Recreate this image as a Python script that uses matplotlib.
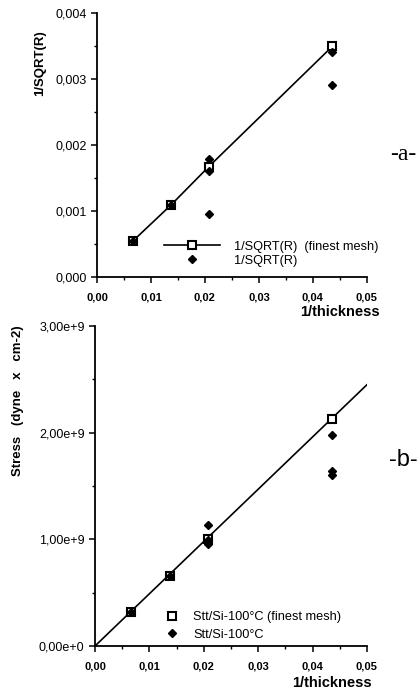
import matplotlib
matplotlib.use("Agg")
import matplotlib.pyplot as plt
from matplotlib.ticker import MultipleLocator, FuncFormatter

plt.rcParams['font.family'] = ['Liberation Sans', 'DejaVu Sans']

# panel a: 1/SQRT(R) vs 1/thickness
a_mesh_x = [0.0067, 0.0137, 0.0207, 0.0436]
a_mesh_y = [0.00055, 0.00109, 0.00167, 0.00349]
a_pts_x = [0.0067, 0.0137, 0.0208, 0.0208, 0.0208, 0.0436, 0.0436]
a_pts_y = [0.00055, 0.00109, 0.00178, 0.00160, 0.00096, 0.00341, 0.00291]

# panel b: stress vs 1/thickness
b_mesh_x = [0.0066, 0.0138, 0.0208, 0.0436]
b_mesh_y = [0.32e9, 0.657e9, 1.006e9, 2.13e9]
b_pts_x = [0.0066, 0.0138, 0.0208, 0.0208, 0.0208, 0.0436, 0.0436, 0.0436]
b_pts_y = [0.32e9, 0.657e9, 1.137e9, 0.99e9, 0.96e9, 1.98e9, 1.64e9, 1.60e9]
b_fit_x = [0.0, 0.0502]
b_fit_slope = 4.9e10


def comma(fmt):
    return FuncFormatter(lambda v, p: (fmt % v).replace('.', ','))


def sci(v, p):
    if v == 0:
        return '0,00e+0'
    return ('%.2fe+9' % (v / 1e9)).replace('.', ',')


def style_axes(ax):
    ax.spines['top'].set_visible(False)
    ax.spines['right'].set_visible(False)
    ax.spines['left'].set_linewidth(1.3)
    ax.spines['bottom'].set_linewidth(1.3)
    ax.set_xlim(0, 0.05)
    ax.xaxis.set_major_locator(MultipleLocator(0.01))
    ax.xaxis.set_minor_locator(MultipleLocator(0.005))
    ax.xaxis.set_major_formatter(comma('%.2f'))
    ax.tick_params(which='major', length=4, width=1.1, direction='out')
    ax.tick_params(which='minor', length=2.5, width=1, direction='out')
    ax.tick_params(axis='x', pad=7, labelsize=8)
    ax.tick_params(axis='y', labelsize=9)
    ax.set_xlabel('1/thickness', fontsize=10.5, fontweight='bold')
    ax.xaxis.label.set_ha('right')
    ax.xaxis.label.set_va('center')


fig = plt.figure(figsize=(4.19, 6.91), dpi=100)

ax1 = fig.add_axes([0.2315, 0.599, 0.644, 0.3826])
ax1.plot(a_mesh_x, a_mesh_y, color='black', lw=1.2, marker='s', ms=5.5,
         mfc='white', mec='black', mew=1.5, label='1/SQRT(R)  (finest mesh)')
ax1.plot(a_pts_x, a_pts_y, ls='none', marker='D', ms=4.2, color='black',
         label='1/SQRT(R)')
ax1.set_ylim(0, 0.004)
ax1.yaxis.set_major_locator(MultipleLocator(0.001))
ax1.yaxis.set_minor_locator(MultipleLocator(0.0005))
ax1.yaxis.set_major_formatter(comma('%.3f'))
style_axes(ax1)
for lab in ax1.get_xticklabels():
    lab.set_fontweight('bold')
ax1.xaxis.set_label_coords(1.048, -0.133)
ax1.text(-0.21, 0.81, '1/SQRT(R)', rotation=90, fontsize=9.5, fontweight='bold',
         ha='center', va='center', transform=ax1.transAxes)
ax1.legend(loc='lower left', bbox_to_anchor=(0.215, 0.005), frameon=False,
           fontsize=9.2, handlelength=4.4, numpoints=1, handletextpad=1.1,
           labelspacing=0.15, borderpad=0.2)

ax2 = fig.add_axes([0.2267, 0.0651, 0.649, 0.463])
ax2.plot(b_fit_x, [b_fit_slope * x for x in b_fit_x], color='black', lw=1.2)
ax2.plot(b_mesh_x, b_mesh_y, ls='none', marker='s', ms=5.5, mfc='white',
         mec='black', mew=1.5, label='Stt/Si-100°C (finest mesh)')
ax2.plot(b_pts_x, b_pts_y, ls='none', marker='D', ms=4.2, color='black',
         label='Stt/Si-100°C')
ax2.set_ylim(0, 3e9)
ax2.yaxis.set_major_locator(MultipleLocator(1e9))
ax2.yaxis.set_minor_locator(MultipleLocator(0.5e9))
ax2.yaxis.set_major_formatter(FuncFormatter(sci))
style_axes(ax2)
for lab in ax2.get_xticklabels():
    lab.set_fontweight('bold')
ax2.xaxis.set_label_coords(1.018, -0.116)
ax2.text(-0.283, 0.766, 'Stress   (dyne   x   cm-2)', rotation=90, fontsize=9.5,
         fontweight='bold', ha='center', va='center', transform=ax2.transAxes)
ax2.legend(loc='lower left', bbox_to_anchor=(0.215, -0.012), frameon=False,
           fontsize=9.2, handlelength=1.5, numpoints=1, handletextpad=0.9,
           labelspacing=0.45, borderpad=0.2)

fig.text(403 / 419, 1 - 155 / 691, '-a-', fontsize=17, family='Liberation Serif',
         ha='center', va='center')
fig.text(403 / 419, 1 - 460 / 691, '-b-', fontsize=17, family='Liberation Sans',
         ha='center', va='center')

fig.savefig('out.png', dpi=100)
